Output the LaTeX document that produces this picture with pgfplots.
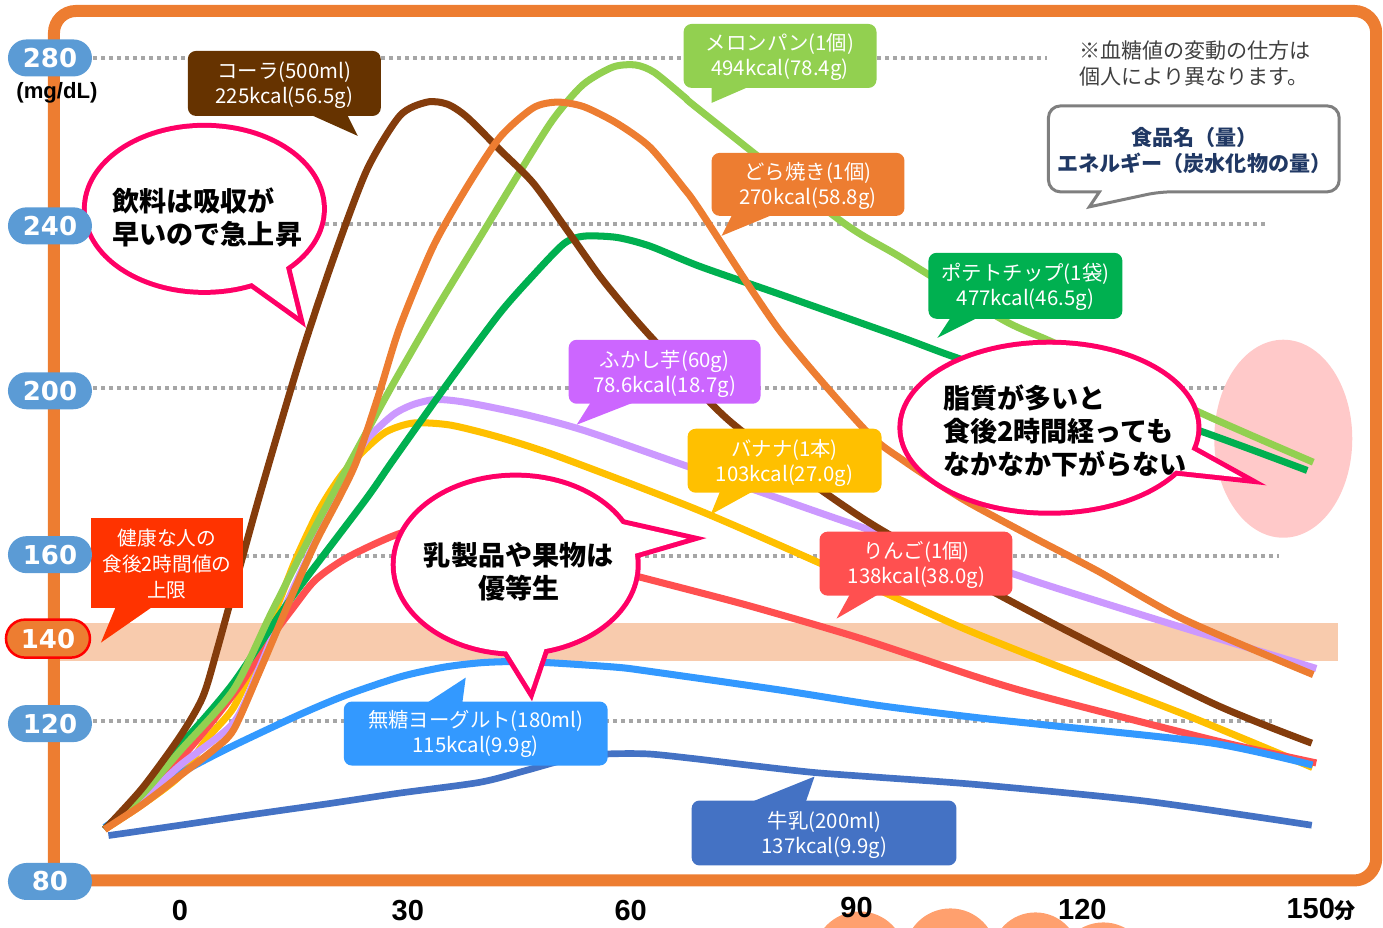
\documentclass[border=0pt]{standalone}
\usepackage{fontspec}
\usepackage{pgfplots}
\pgfplotsset{compat=1.18}
\newfontfamily\jp{Noto Sans CJK JP}
\newfontfamily\dvb{DejaVu Sans}
\newfontfamily\lib{Liberation Sans}
\definecolor{frameor}{HTML}{ED7D31}
\definecolor{pillblue}{HTML}{5B9BD5}
\definecolor{band}{HTML}{F8CBAD}
\definecolor{gridg}{HTML}{A6A6A6}
\definecolor{pinkov}{HTML}{FFC9C9}
\definecolor{bpink}{HTML}{FF0066}
\definecolor{cbrown}{HTML}{843C0C}
\definecolor{cbrownbox}{HTML}{663300}
\definecolor{clgreen}{HTML}{92D050}
\definecolor{corange}{HTML}{ED7D31}
\definecolor{cgreen}{HTML}{00B050}
\definecolor{cpurple}{HTML}{CC99FF}
\definecolor{cpurplebox}{HTML}{CC66FF}
\definecolor{cyellow}{HTML}{FFC000}
\definecolor{cred}{HTML}{FF5050}
\definecolor{cblue}{HTML}{3399FF}
\definecolor{cnavy}{HTML}{4472C4}
\definecolor{chealthy}{HTML}{FF3300}
\definecolor{legtext}{HTML}{203864}
\definecolor{legborder}{HTML}{7F7F7F}
\definecolor{circ}{HTML}{FFA06E}
\definecolor{notegray}{HTML}{404040}
\newcommand{\cfont}{\jp\fontsize{5.8}{7.1}\selectfont}
\newcommand{\bfont}{\jp\bfseries\fontsize{7.7}{9.4}\selectfont}
\newcommand{\pfont}{\dvb\bfseries\fontsize{7.4}{8}\selectfont}
\newcommand{\xfont}{\lib\bfseries\fontsize{8.25}{9}\selectfont}
\begin{document}
\begin{tikzpicture}
\path[use as bounding box] (0,0) rectangle (13.83,9.28);
\clip (0,0) rectangle (13.83,9.28);
% ---------- background ----------
\begin{scope}[shift={(0,9.28)}, x=0.01cm, y=-0.01cm]
  \fill[circ] (860,958) circle [radius=0.46cm];
  \fill[circ] (951,955) circle [radius=0.46cm];
  \fill[circ] (1036,957) circle [radius=0.44cm];
  \fill[circ] (1104,968) circle [radius=0.45cm];
  \draw[frameor, line width=0.12cm] (54,887) [rounded corners=0.22cm] -- (54,11) -- (1377,11) -- (1377,881) -- (48,881);
  \fill[band] (60,623) rectangle (1339,661);
  \foreach \yy/\xe in {58/1048, 224/1267, 388/1270, 556/1280, 721/1273}
    \draw[gridg, line width=0.04cm, dash pattern=on 0.04cm off 0.04cm] (93,\yy) -- (\xe,\yy);
  \fill[pinkov] (1284,439) ellipse [x radius=0.69cm, y radius=0.99cm];
\end{scope}
% ---------- data ----------
\begin{axis}[at={(0,0)}, anchor=south west, width=13.83cm, height=9.28cm, scale only axis,
  xmin=-23.904, xmax=159.761, ymin=69.091, ymax=294.061, hide axis]
\addplot[cnavy, line width=1.9pt, smooth, tension=0.45] coordinates {
 (-9.5,91.5) (0,94) (10,96.7) (20,99.3) (29.2,101.8) (39.8,104.4) (46,107.3) (51,109.8) (56,111.2) (62,111.3) (68,110.2) (75.3,108.6) (84.1,106.8) (92.9,105.6) (106.2,103.8) (128.4,99.8) (150.3,94)};
\addplot[cyellow, line width=2pt, smooth, tension=0.45] coordinates {
 (-10,93) (-5,99) (0,106) (3.6,115) (7.1,122.5) (10,134) (12.9,147) (15.5,159) (18.5,170.5) (21.5,179) (24.8,185.5) (27.5,189.5) (31,191.5) (35.9,191) (42.5,188) (50.4,183.3) (68.8,170.4) (87,155.9) (102.8,142.7) (115.5,133.3) (133.2,121) (150.4,108)};
\addplot[cred, line width=2pt, smooth, tension=0.45] coordinates {
 (-10,93) (-5,101) (0,110) (4,118.5) (8,128) (11.5,138) (15.1,146.9) (18,153.5) (22.3,159) (29.3,164.8) (35,166.3) (45,162.5) (52,158.5) (61,154.2) (75,147.5) (90,139.5) (106.2,129.7) (115,125) (137.1,114.7) (150.9,109.1)};
\addplot[cblue, line width=2pt, smooth, tension=0.45] coordinates {
 (-10,93.5) (-5,100) (0,106.5) (6.2,112.5) (15.5,120.5) (22,125.5) (29.3,130) (35,132.3) (40,133.4) (45,133.7) (50,133.3) (58,132.3) (62,131.4) (79.6,126.8) (92.9,123) (106.2,120) (115,118.3) (137.1,113.9) (150.4,108.6)};
\addplot[cpurple, line width=2pt, smooth, tension=0.45] coordinates {
 (-10,93) (-5,100) (0,108.5) (7.1,118.8) (10.5,132) (14.2,148) (17.5,161) (20.4,172.5) (22.7,181) (24.8,187.5) (28.3,193.5) (31,196) (34,197.2) (38,196.5) (46,193.5) (54,189.5) (68.8,180.1) (91.6,165.6) (104,159) (115.5,152) (133,142) (150.9,132)};
\addplot[cgreen, line width=2pt, smooth, tension=0.45] coordinates {
 (-10,93) (-6.2,100) (-1.7,110.5) (1.3,116) (7.1,128.5) (14.6,148.6) (24.6,172.8) (28.3,182.5) (35.9,202) (42.5,218.2) (47,227.5) (51,235) (53.6,236.8) (58,236.5) (62.4,234.4) (69,229.5) (80,222.5) (95.6,212.4) (104,206.8) (120,197.8) (134,190.5) (149.7,180)};
\addplot[clgreen, line width=2pt, smooth, tension=0.45] coordinates {
 (-10,93) (-5,101.5) (0,112) (7.1,126.8) (12,145) (17,163) (22,180) (28,200) (34,219) (40,237) (45,252) (49.5,265) (53.5,273.5) (57.5,277.8) (60.5,278.3) (63,276.5) (67,270.5) (69,267.4) (87.6,240.7) (95.6,231.8) (109.3,216.5) (116.6,210.5) (135.5,194) (150.5,182)};
\addplot[cbrown, line width=2pt, smooth, tension=0.45] coordinates {
 (-10,93) (-5,103) (0,115.5) (3,125) (5,137) (10.4,172.8) (15.9,206.8) (20.3,231) (24.8,252.8) (29.2,266) (32.8,269.3) (35.5,268.8) (38.1,265.7) (42.5,257.7) (46.9,249.7) (51.4,238.3) (55.8,227) (60.2,217.2) (64,209.5) (73.3,191.5) (91.6,167.3) (115,143.8) (137.1,123.6) (150.3,113.9)};
\addplot[corange, line width=2pt, smooth, tension=0.45] coordinates {
 (-10,93) (-5,99) (0,106) (4.4,112.2) (7.1,117.1) (10.5,131) (14.6,148.6) (18,162.5) (21.3,174) (23.5,182.5) (26.5,199) (29.2,214.8) (33.6,234.2) (38.1,248.7) (42.5,260.8) (46.9,267.9) (50.1,269.3) (53.6,268.2) (58,264.2) (62.4,258.4) (66.8,248.7) (69,243.2) (79.6,214) (91,189.8) (96,182.5) (104,173) (113.3,163.8) (122,155.5) (133.2,144) (150.5,130.5)};
\end{axis}
% ---------- foreground ----------
\begin{scope}[shift={(0,9.28)}, x=0.01cm, y=-0.01cm]
  % callout boxes
  \fill[cbrownbox, rounded corners=0.08cm] (188,51) rectangle (381,116);
  \fill[cbrownbox] (300,110) -- (345,110) -- (358,136) -- cycle;
  \node[text=white, font=\cfont, align=center] at (284.5,85.5) {コーラ(500ml)\\225kcal(56.5g)};

  \fill[clgreen, rounded corners=0.08cm] (684,24) rectangle (877,88);
  \fill[clgreen] (712,80) -- (765,80) -- (712,103) -- cycle;
  \node[text=white, font=\cfont, align=center] at (780.5,57.5) {メロンパン(1個)\\494kcal(78.4g)};

  \fill[corange, rounded corners=0.08cm] (712,153) rectangle (905,216);
  \fill[corange] (735,210) -- (785,210) -- (722,236) -- cycle;
  \node[text=white, font=\cfont, align=center] at (808.5,186) {どら焼き(1個)\\270kcal(58.8g)};

  \fill[cgreen, rounded corners=0.08cm] (929,253) rectangle (1123,319);
  \fill[cgreen] (955,312) -- (990,312) -- (938,338) -- cycle;
  \node[text=white, font=\cfont, align=center] at (1026,287) {ポテトチップ(1袋)\\477kcal(46.5g)};

  \fill[cpurplebox, rounded corners=0.08cm] (569,340) rectangle (761,404);
  \fill[cpurplebox] (594,398) -- (646,398) -- (577,425) -- cycle;
  \node[text=white, font=\cfont, align=center] at (665,374.5) {ふかし芋(60g)\\78.6kcal(18.7g)};

  \fill[cyellow, rounded corners=0.08cm] (688,429) rectangle (882,493);
  \fill[cyellow] (722,488) -- (760,488) -- (711,515) -- cycle;
  \node[text=white, font=\cfont, align=center] at (785,463) {バナナ(1本)\\103kcal(27.0g)};

  \fill[cred, rounded corners=0.08cm] (820,532) rectangle (1013,596);
  \fill[cred] (853,590) -- (887,590) -- (837,619) -- cycle;
  \node[text=white, font=\cfont, align=center] at (917,565) {りんご(1個)\\138kcal(38.0g)};

  \fill[cblue, rounded corners=0.08cm] (344,702) rectangle (608,766);
  \fill[cblue] (420,708) -- (462,708) -- (466,678) -- cycle;
  \node[text=white, font=\cfont, align=center] at (476,734.5) {無糖ヨーグルト(180ml)\\115kcal(9.9g)};

  \fill[cnavy, rounded corners=0.08cm] (692,801) rectangle (957,866);
  \fill[cnavy] (743,806) -- (805,806) -- (815,777) -- cycle;
  \node[text=white, font=\cfont, align=center] at (825,835.5) {牛乳(200ml)\\137kcal(9.9g)};

  \fill[chealthy] (91,518) rectangle (243,608);
  \fill[chealthy] (118,602) -- (160,602) -- (101,643) -- cycle;
  \node[text=white, font=\jp\fontsize{5.6}{7.4}\selectfont, align=center] at (167,564) {健康な人の\\食後2時間値の\\上限};

  % legend box
  \draw[legborder, line width=0.03cm, fill=white, rounded corners=0.12cm] (1049,106) -- (1340,106) -- (1340,192) -- (1160,192) [sharp corners] -- (1090,207) -- (1100,192) [rounded corners=0.12cm] -- (1049,192) -- cycle;
  \node[text=legtext, font=\jp\bfseries\fontsize{6}{7.4}\selectfont, align=center] at (1195,151) {食品名（量）\\エネルギー（炭水化物の量）};

  % note
  \node[anchor=west, inner sep=0pt, text=notegray, font=\jp\fontsize{6}{7.4}\selectfont, align=left] at (1079,64) {※血糖値の変動の仕方は\\個人により異なります。};

  % bubble A
  \draw[bpink, line width=0.10cm, line join=miter] (245,278) -- (298,316) -- (283,255);
  \draw[bpink, line width=0.10cm] (204.5,209) ellipse [x radius=1.175cm, y radius=0.81cm];
  \fill[white] (204.5,209) ellipse [x radius=1.175cm, y radius=0.81cm];
  \fill[white] (245,278) -- (298,316) -- (283,255) -- cycle;
  \node[anchor=west, align=left, font=\bfont, inner sep=0pt] at (112,218) {飲料は吸収が\\早いので急上昇};

  % bubble B
  \draw[bpink, line width=0.10cm, line join=miter] (500,640) -- (531,690) -- (548,640);
  \draw[bpink, line width=0.10cm, line join=miter] (612,522) -- (687,539) -- (615,560);
  \draw[bpink, line width=0.10cm] (516,565) ellipse [x radius=1.20cm, y radius=0.87cm];
  \fill[white] (516,565) ellipse [x radius=1.20cm, y radius=0.87cm];
  \fill[white] (500,640) -- (531,690) -- (548,640) -- cycle;
  \fill[white] (612,522) -- (687,539) -- (615,560) -- cycle;
  \node[align=center, font=\bfont, inner sep=0pt] at (519,572) {乳製品や果物は\\優等生};

  % bubble C
  \draw[bpink, line width=0.10cm, line join=miter] (1178,442) -- (1243,478) -- (1150,468);
  \draw[bpink, line width=0.10cm] (1050,428) ellipse [x radius=1.47cm, y radius=0.83cm];
  \fill[white] (1050,428) ellipse [x radius=1.47cm, y radius=0.83cm];
  \fill[white] (1178,442) -- (1243,478) -- (1150,468) -- cycle;
  \node[anchor=west, align=left, font=\bfont, inner sep=0pt] at (943,431) {脂質が多いと\\食後2時間経っても\\なかなか下がらない};

  % y pills
  \foreach \v/\yy in {280/58, 240/226, 200/391, 160/555, 120/724, 80/882}
    \node[fill=pillblue, rounded corners=0.185cm, minimum width=0.84cm, minimum height=0.37cm, inner sep=0pt, text=white, font=\pfont] at (50,\yy) {\v};
  \node[fill=frameor, draw=red, line width=0.025cm, rounded corners=0.19cm, minimum width=0.84cm, minimum height=0.38cm, inner sep=0pt, text=white, font=\pfont] at (48,639) {140};
  \node[font=\lib\bfseries\fontsize{6.3}{7}\selectfont, inner sep=0pt] at (57,93) {(mg/dL)};

  % x labels
  \node[font=\xfont, inner sep=0pt] at (180,911) {0};
  \node[font=\xfont, inner sep=0pt] at (408,911) {30};
  \node[font=\xfont, inner sep=0pt] at (631,911) {60};
  \node[font=\xfont, inner sep=0pt] at (857,908) {90};
  \node[font=\xfont, inner sep=0pt] at (1083,910) {120};
  \node[font=\xfont, inner sep=0pt] at (1322,910) {150{\jp\bfseries\fontsize{6}{6}\selectfont 分}};
\end{scope}
\end{tikzpicture}
\end{document}
